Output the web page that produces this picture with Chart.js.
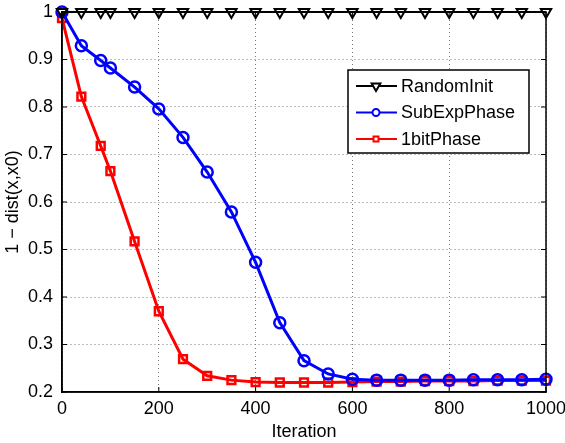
<!DOCTYPE html>
<html>
<head>
<meta charset="utf-8">
<script src="https://cdn.jsdelivr.net/npm/chart.js@4/dist/chart.umd.min.js"></script>
<style>
  html, body { margin: 0; padding: 0; background: #fff; }
  #wrap { width: 565px; height: 443px; }
</style>
</head>
<body>
<div id="wrap"><canvas id="chart1"></canvas></div>
<script>
// data
const iterations = [0, 40, 80, 100, 150, 200, 250, 300, 350, 400, 450, 500, 550, 600, 650, 700, 750, 800, 850, 900, 950, 1000];
const randomInit = [1, 1, 1, 1, 1, 1, 1, 1, 1, 1, 1, 1, 1, 1, 1, 1, 1, 1, 1, 1, 1, 1];
const subExpPhase = [1.0, 0.929, 0.898, 0.882, 0.842, 0.796, 0.736, 0.663, 0.579, 0.473, 0.346, 0.266, 0.238, 0.227, 0.225, 0.225, 0.225, 0.225, 0.226, 0.226, 0.226, 0.227];
const oneBitPhase = [0.987, 0.822, 0.718, 0.665, 0.517, 0.370, 0.269, 0.234, 0.225, 0.221, 0.220, 0.220, 0.220, 0.221, 0.222, 0.222, 0.223, 0.223, 0.223, 0.224, 0.224, 0.224];
const seriesNames = ['RandomInit', 'SubExpPhase', '1bitPhase'];
const xLabel = 'Iteration';
const yLabel = '1 \u2212 dist(x,x0)';

const FONT = '"Liberation Sans", Arial, Helvetica, sans-serif';

function toPoints(ys) {
    return ys.map((y, i) => ({ x: iterations[i], y: y }));
}

// MATLAB-like box, inward ticks and legend
const matlabPlugin = {
    id: 'matlabBox',
    afterDraw(chart) {
        const ctx = chart.ctx;
        const a = chart.chartArea;
        const xs = chart.scales.x;
        const ys = chart.scales.y;
        ctx.save();
        ctx.strokeStyle = '#000';
        ctx.lineWidth = 1.5;
        ctx.strokeRect(a.left, a.top, a.right - a.left, a.bottom - a.top);

        ctx.lineWidth = 1;
        const t = 5;
        xs.ticks.forEach(tk => {
            const px = xs.getPixelForValue(tk.value);
            ctx.beginPath();
            ctx.moveTo(px, a.bottom); ctx.lineTo(px, a.bottom - t);
            ctx.moveTo(px, a.top); ctx.lineTo(px, a.top + t);
            ctx.stroke();
        });
        ys.ticks.forEach(tk => {
            const py = ys.getPixelForValue(tk.value);
            ctx.beginPath();
            ctx.moveTo(a.left, py); ctx.lineTo(a.left + t, py);
            ctx.moveTo(a.right, py); ctx.lineTo(a.right - t, py);
            ctx.stroke();
        });

        // legend
        const bx = a.right - 198, by = a.top + 58, bw = 181, bh = 83;
        ctx.fillStyle = '#fff';
        ctx.fillRect(bx, by, bw, bh);
        ctx.strokeStyle = '#000';
        ctx.lineWidth = 1.5;
        ctx.strokeRect(bx, by, bw, bh);
        ctx.font = '18px ' + FONT;
        ctx.textBaseline = 'middle';
        chart.data.datasets.forEach((ds, i) => {
            const ry = by + 16 + i * 26.5;
            ctx.strokeStyle = ds.borderColor;
            ctx.lineWidth = 2;
            ctx.beginPath();
            ctx.moveTo(bx + 8, ry); ctx.lineTo(bx + 49, ry);
            ctx.stroke();
            ctx.fillStyle = '#fff';
            Chart.helpers.drawPoint(ctx, {
                pointStyle: ds.pointStyle,
                rotation: ds.pointRotation || 0,
                radius: ds.pointStyle === 'triangle' ? 5 : 3.5,
                borderWidth: 1.5
            }, bx + 28, ry);
            ctx.fillStyle = '#000';
            ctx.textAlign = 'left';
            ctx.fillText(ds.label, bx + 53, ry + 1);
        });
        ctx.restore();
    }
};

const data = {
    datasets: [
        {
            label: seriesNames[0],
            data: toPoints(randomInit),
            borderColor: '#000000',
            backgroundColor: 'rgba(0,0,0,0)',
            pointStyle: 'triangle',
            pointRotation: 180,
            pointRadius: 6,
            pointBorderWidth: 2,
            borderWidth: 2,
            clip: false
        },
        {
            label: seriesNames[1],
            data: toPoints(subExpPhase),
            borderColor: '#0000ff',
            backgroundColor: 'rgba(0,0,0,0)',
            pointStyle: 'circle',
            pointRadius: 5.5,
            pointBorderWidth: 2.5,
            borderWidth: 3,
            clip: false
        },
        {
            label: seriesNames[2],
            data: toPoints(oneBitPhase),
            borderColor: '#ff0000',
            backgroundColor: 'rgba(0,0,0,0)',
            pointStyle: 'rect',
            pointRadius: 5.5,
            pointBorderWidth: 2.5,
            borderWidth: 3,
            clip: false
        }
    ]
};

const config = {
    type: 'line',
    data: data,
    options: {
        responsive: true,
        maintainAspectRatio: false,
        animation: false,
        layout: { padding: { top: 12, right: 19, bottom: 0, left: 0 } },
        plugins: {
            legend: { display: false },
            tooltip: { enabled: false }
        },
        elements: { line: { tension: 0 } },
        scales: {
            x: {
                type: 'linear',
                min: 0,
                max: 1000,
                ticks: {
                    stepSize: 200,
                    padding: 6,
                    color: '#000',
                    font: { family: FONT, size: 18 },
                    maxRotation: 0,
                    callback: v => String(v)
                },
                grid: {
                    color: '#7a7a7a',
                    lineWidth: 1,
                    drawTicks: false
                },
                border: { display: true, color: '#000', width: 1.5, dash: [1, 3] },
                title: {
                    display: true,
                    text: xLabel,
                    color: '#000',
                    font: { family: FONT, size: 18 },
                    padding: { top: 0, bottom: 0 }
                },
                afterFit: s => {
                    s.height = 51;
                    s.paddingLeft = 0;
                    s.paddingRight = 0;
                }
            },
            y: {
                min: 0.2,
                max: 1,
                ticks: {
                    stepSize: 0.1,
                    padding: 9,
                    color: '#000',
                    font: { family: FONT, size: 18 },
                    callback: v => String(Math.round(v * 10) / 10)
                },
                grid: {
                    color: '#7a7a7a',
                    lineWidth: 1,
                    drawTicks: false
                },
                border: { display: true, color: '#000', width: 1.5, dash: [1, 3] },
                title: {
                    display: true,
                    text: yLabel,
                    color: '#000',
                    font: { family: FONT, size: 18 },
                    padding: { top: 2, bottom: 0 }
                },
                afterFit: s => {
                    s.width = 62;
                    s.paddingTop = 0;
                    s.paddingBottom = 0;
                }
            }
        }
    },
    plugins: [matlabPlugin]
};

const chart1 = new Chart(document.getElementById('chart1'), config);
</script>
</body>
</html>
